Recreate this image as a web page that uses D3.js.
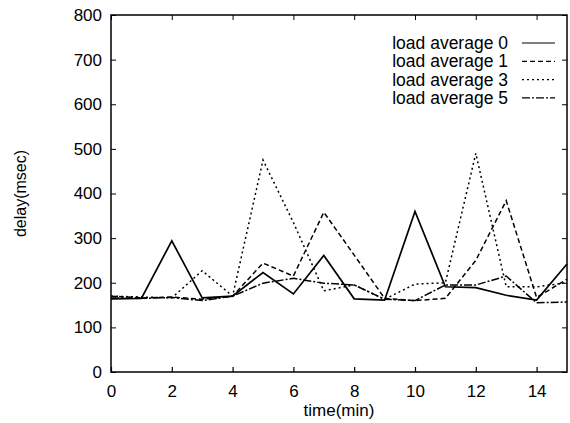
<!DOCTYPE html>
<html>
<head>
<meta charset="utf-8">
<script src="https://cdn.jsdelivr.net/npm/d3@7"></script>
<style>
  body { margin: 0; background: #fff; }
  text { font-family: "Liberation Sans", Arial, sans-serif; fill: #000; }
</style>
</head>
<body>
<svg width="570" height="423"></svg>
<script>
// data
var minutes = [0, 1, 2, 3, 4, 5, 6, 7, 8, 9, 10, 11, 12, 13, 14, 15];
var load0 = [164, 165, 294, 166, 170, 223, 175, 261, 164, 161, 360, 191, 189, 172, 161, 242];
var load1 = [170, 166, 168, 163, 170, 244, 215, 358, 262, 165, 160, 165, 250, 384, 167, 208];
var load3 = [170, 168, 166, 227, 170, 475, 335, 182, 195, 163, 197, 200, 490, 191, 191, 200];
var load5 = [166, 165, 167, 160, 170, 199, 210, 199, 195, 163, 160, 195, 195, 215, 155, 157];
var seriesNames = ["load average 0", "load average 1", "load average 3", "load average 5"];
var xTicks = [0, 2, 4, 6, 8, 10, 12, 14];
var yTicks = [0, 100, 200, 300, 400, 500, 600, 700, 800];

var dashes = [null, "5,3", "2,3", "8,2,2,2"];
var allSeries = [load0, load1, load3, load5];

var svg = d3.select("svg"),
  margin = {top: 15, right: 3, bottom: 51, left: 111},
  width = +svg.attr("width") - margin.left - margin.right,
  height = +svg.attr("height") - margin.top - margin.bottom,
  g = svg.append("g").attr("transform", "translate(" + margin.left + "," + margin.top + ")");

var x = d3.scaleLinear().domain([0, 15]).range([0, width]);
var y = d3.scaleLinear().domain([0, 800]).range([height, 0]);

// frame
g.append("rect")
  .attr("width", width)
  .attr("height", height)
  .attr("fill", "none")
  .attr("stroke", "#000")
  .attr("stroke-width", 1.5);

// bottom axis: labels + inward ticks
var xAx = g.append("g")
  .attr("transform", "translate(0," + height + ")")
  .call(d3.axisBottom(x).tickValues(xTicks).tickSize(-5).tickPadding(13));
xAx.select(".domain").remove();
xAx.selectAll("text").style("font-size", "17px").attr("fill", "#000");
xAx.selectAll("line").attr("stroke-width", 1.2);

// top ticks
var xTop = g.append("g")
  .call(d3.axisTop(x).tickValues(xTicks).tickSize(-5).tickFormat(""));
xTop.select(".domain").remove();

// left axis
var yAx = g.append("g")
  .call(d3.axisLeft(y).tickValues(yTicks).tickSize(-5).tickPadding(9));
yAx.select(".domain").remove();
yAx.selectAll("text").style("font-size", "17px").attr("fill", "#000");

// right ticks
var yRight = g.append("g")
  .attr("transform", "translate(" + width + ",0)")
  .call(d3.axisRight(y).tickValues(yTicks).tickSize(-5).tickFormat(""));
yRight.select(".domain").remove();

// axis titles
svg.append("text")
  .attr("x", margin.left + x(7.5))
  .attr("y", 416)
  .attr("text-anchor", "middle")
  .style("font-size", "17px")
  .text("time(min)");

svg.append("text")
  .attr("transform", "translate(26," + (margin.top + height / 2) + ") rotate(-90)")
  .attr("text-anchor", "middle")
  .style("font-size", "16px")
  .text("delay(msec)");

// lines
var line = d3.line()
  .x(function(d, i) { return x(minutes[i]); })
  .y(function(d) { return y(d); });

allSeries.forEach(function(s, k) {
  g.append("path")
    .datum(s)
    .attr("fill", "none")
    .attr("stroke", "#000")
    .attr("stroke-width", k == 0 ? 1.7 : 1.5)
    .attr("stroke-dasharray", dashes[k])
    .attr("d", line);
});

// legend
var legend = g.append("g");
seriesNames.forEach(function(name, k) {
  var ly = 28 + k * 18.3;
  legend.append("text")
    .attr("x", 397)
    .attr("y", ly)
    .attr("dy", "0.35em")
    .attr("text-anchor", "end")
    .style("font-size", "17.5px")
    .text(name);
  legend.append("line")
    .attr("x1", 411).attr("x2", 444)
    .attr("y1", ly).attr("y2", ly)
    .attr("stroke", "#000")
    .attr("stroke-width", 1.2)
    .attr("stroke-dasharray", dashes[k]);
});
</script>
</body>
</html>
